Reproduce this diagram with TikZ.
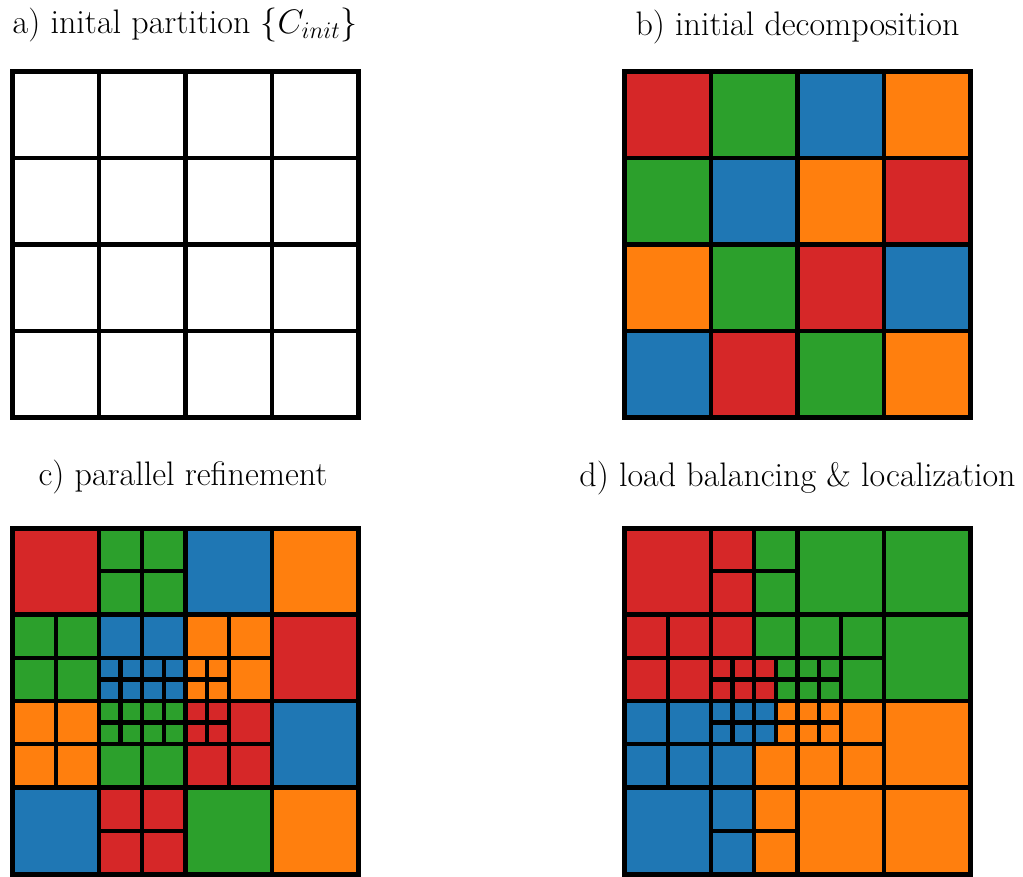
\RequirePackage{fix-cm}
\documentclass[tikz,border=0pt]{standalone}
\definecolor{cR}{HTML}{D62728}
\definecolor{cG}{HTML}{2CA02C}
\definecolor{cB}{HTML}{1F77B4}
\definecolor{cO}{HTML}{FF7F0E}
\tikzset{
  cellbox/.style={draw=black, line width=4.3pt},
  panelborder/.style={draw=black, line width=5pt},
  title/.style={anchor=base, inner sep=0pt, font=\fontsize{34}{40}\selectfont},
  panel/.style={x={(21.625pt,0pt)}, y={(0pt,-21.625pt)}}
}
\begin{document}
\begin{tikzpicture}[x=1pt,y=-1pt]
\useasboundingbox (0,0) rectangle (1023,876);

% titles
\node[title] (ta) at (185,33.5) {a) inital partition $\{C_{init}\}$};
\node[title] (tb) at (797.5,35) {b) initial decomposition};
\node[title] (tc) at (183,485.5) {c) parallel refinement};
\node[title] (td) at (797.5,486) {d) load balancing \& localization};

% panel a
\begin{scope}[shift={(12.5,71.5)}, panel]
  \foreach \i in {0,4,8,12} \foreach \j in {0,4,8,12}
    \filldraw[cellbox, fill=white] (\i,\j) rectangle ++(4,4);
  \draw[panelborder] (0,0) rectangle (16,16);
\end{scope}

% panel b
\begin{scope}[shift={(624.5,71.5)}, panel]
  \foreach \i/\j/\col in {0/0/cR,4/0/cG,8/0/cB,12/0/cO,
                          0/4/cG,4/4/cB,8/4/cO,12/4/cR,
                          0/8/cO,4/8/cG,8/8/cR,12/8/cB,
                          0/12/cB,4/12/cR,8/12/cG,12/12/cO}
    \filldraw[cellbox, fill=\col] (\i,\j) rectangle ++(4,4);
  \draw[panelborder] (0,0) rectangle (16,16);
\end{scope}

% panel c
\begin{scope}[shift={(12.5,528)}, panel]
  \foreach \i/\j/\s/\col in {
      0/0/4/cR, 4/0/2/cG, 6/0/2/cG, 4/2/2/cG, 6/2/2/cG, 8/0/4/cB, 12/0/4/cO,
      0/4/2/cG, 2/4/2/cG, 0/6/2/cG, 2/6/2/cG,
      4/4/2/cB, 6/4/2/cB,
      4/6/1/cB, 5/6/1/cB, 4/7/1/cB, 5/7/1/cB, 6/6/1/cB, 7/6/1/cB, 6/7/1/cB, 7/7/1/cB,
      8/4/2/cO, 10/4/2/cO, 8/6/1/cO, 9/6/1/cO, 8/7/1/cO, 9/7/1/cO, 10/6/2/cO,
      12/4/4/cR,
      0/8/2/cO, 2/8/2/cO, 0/10/2/cO, 2/10/2/cO,
      4/8/1/cG, 5/8/1/cG, 4/9/1/cG, 5/9/1/cG, 6/8/1/cG, 7/8/1/cG, 6/9/1/cG, 7/9/1/cG,
      4/10/2/cG, 6/10/2/cG,
      8/8/1/cR, 9/8/1/cR, 8/9/1/cR, 9/9/1/cR, 10/8/2/cR, 8/10/2/cR, 10/10/2/cR,
      12/8/4/cB,
      0/12/4/cB, 4/12/2/cR, 6/12/2/cR, 4/14/2/cR, 6/14/2/cR, 8/12/4/cG, 12/12/4/cO}
    \filldraw[cellbox, fill=\col] (\i,\j) rectangle ++(\s,\s);
  \draw[panelborder] (0,0) rectangle (16,16);
\end{scope}

% panel d
\begin{scope}[shift={(624.5,528)}, panel]
  \foreach \i/\j/\s/\col in {
      0/0/4/cR, 4/0/2/cR, 6/0/2/cG, 4/2/2/cR, 6/2/2/cG, 8/0/4/cG, 12/0/4/cG,
      0/4/2/cR, 2/4/2/cR, 0/6/2/cR, 2/6/2/cR,
      4/4/2/cR, 6/4/2/cG,
      4/6/1/cR, 5/6/1/cR, 4/7/1/cR, 5/7/1/cR, 6/6/1/cR, 7/6/1/cG, 6/7/1/cR, 7/7/1/cG,
      8/4/2/cG, 10/4/2/cG, 8/6/1/cG, 9/6/1/cG, 8/7/1/cG, 9/7/1/cG, 10/6/2/cG,
      12/4/4/cG,
      0/8/2/cB, 2/8/2/cB, 0/10/2/cB, 2/10/2/cB,
      4/8/1/cB, 5/8/1/cB, 4/9/1/cB, 5/9/1/cB, 6/8/1/cB, 7/8/1/cO, 6/9/1/cB, 7/9/1/cO,
      4/10/2/cB, 6/10/2/cO,
      8/8/1/cO, 9/8/1/cO, 8/9/1/cO, 9/9/1/cO, 10/8/2/cO, 8/10/2/cO, 10/10/2/cO,
      12/8/4/cO,
      0/12/4/cB, 4/12/2/cB, 6/12/2/cO, 4/14/2/cB, 6/14/2/cO, 8/12/4/cO, 12/12/4/cO}
    \filldraw[cellbox, fill=\col] (\i,\j) rectangle ++(\s,\s);
  \draw[panelborder] (0,0) rectangle (16,16);
\end{scope}
\end{tikzpicture}
\end{document}
